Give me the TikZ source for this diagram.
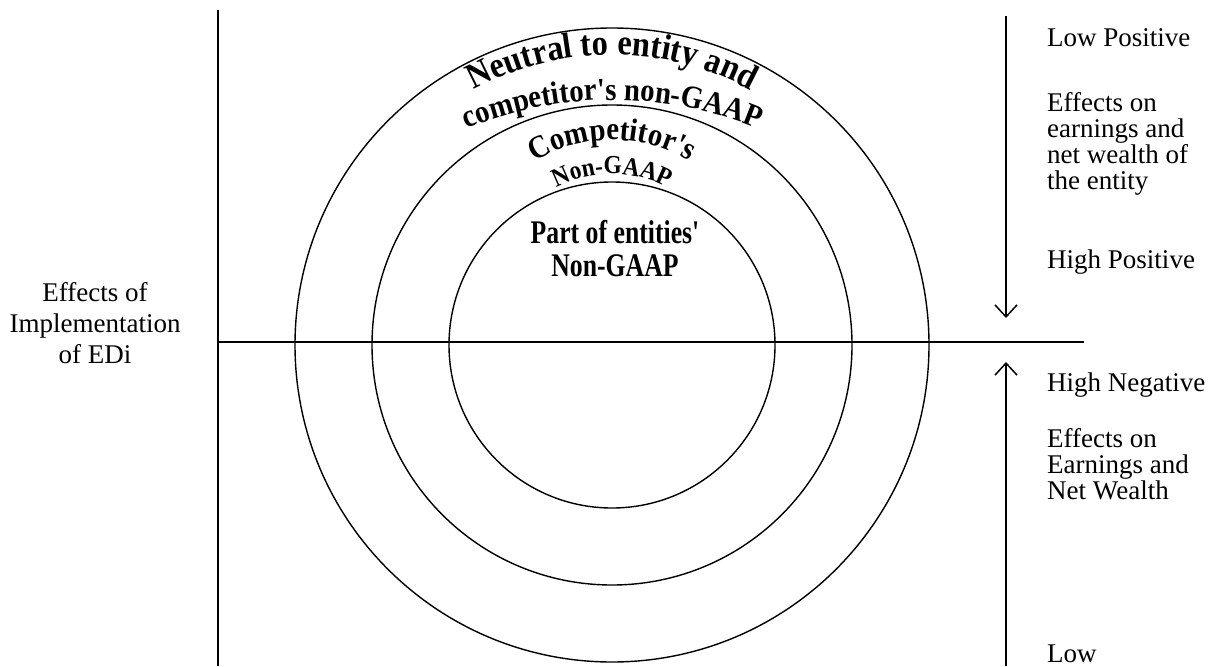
\documentclass[tikz,border=0pt]{standalone}
\usepackage{fontspec}
\setmainfont{Liberation Serif}
\newfontfamily\artfont[FakeStretch=0.9]{Liberation Serif}
\newfontfamily\narrowart[FakeStretch=0.78]{Liberation Serif}
\usetikzlibrary{arrows.meta, positioning, calc, decorations.text}

\begin{document}
\begin{tikzpicture}[
    x=1pt, y=1pt,
    axis/.style={draw=black, line width=1.5pt},
    ring/.style={draw=black, line width=1.4pt},
    scalearrow/.style={draw=black, line width=1.5pt, -{Straight Barb[length=12pt, width=22pt, line width=1.5pt]}},
    sidetext/.style={font=\fontsize{27}{26}\selectfont, align=left, inner sep=0pt},
    axistext/.style={font=\fontsize{27}{31}\selectfont, align=center, inner sep=0pt},
    innertext/.style={font=\narrowart\bfseries\fontsize{33}{33}\selectfont, align=center, inner sep=0pt}
]
\useasboundingbox (0,0) rectangle (1214,-666);

% Axes
\coordinate (vtop) at (218,-10);
\coordinate (vbot) at (218,-666);
\coordinate (hleft) at (218,-342);
\coordinate (hright) at (1084,-342);
\draw[axis] (vtop) -- (vbot);
\draw[axis] (hleft) -- (hright);

% Rings
\coordinate (c) at (612,-345);
\draw[ring] (c) circle[radius=317];
\draw[ring] (c) circle[radius=240];
\draw[ring] (c) circle[radius=163];

% Curved labels (arched like word art)
\coordinate (arcB) at (612,-480);
\coordinate (arcC) at (612,-290);
\coordinate (arcD) at (612,-294);
\path[decorate, decoration={text along path, text align=center,
    text={|\artfont\bfseries\fontsize{36}{36}\selectfont|Neutral to entity and}}]
    ($(c)+(130:290)$) arc[start angle=130, end angle=50, radius=290];
\path[decorate, decoration={text along path, text align=center,
    text={|\artfont\bfseries\fontsize{32}{32}\selectfont|competitor's non-GAAP}}]
    ($(arcB)+(130:380)$) arc[start angle=130, end angle=50, radius=380];
\path[decorate, decoration={text along path, text align=fit to path,
    text={|\artfont\bfseries\fontsize{32}{32}\selectfont|Competitor's}}]
    ($(arcC)+(121:150)$) arc[start angle=121, end angle=59, radius=150];
\path[decorate, decoration={text along path, text align=center,
    text={|\artfont\bfseries\fontsize{26}{26}\selectfont|Non-GAAP}}]
    ($(arcD)+(130:120)$) arc[start angle=130, end angle=50, radius=120];

\node[innertext] (part) at (615,-249) {Part of entities'\\Non-GAAP};

% Left label
\node[axistext] (effects) at (95,-323) {Effects of\\Implementation\\of EDi};

% Arrows
\coordinate (dtop) at (1006,-16);
\coordinate (dtip) at (1006,-318);
\coordinate (ubot) at (1006,-666);
\coordinate (utip) at (1006,-362);
\draw[scalearrow] (dtop) -- (dtip);
\draw[scalearrow] (ubot) -- (utip);

% Right labels
\node[sidetext, anchor=base west] (lowpos) at (1047,-47) {Low Positive};
\node[sidetext, anchor=west] (posfx) at (1047,-144) {Effects on\\earnings and\\net wealth of\\the entity};
\node[sidetext, anchor=base west] (highpos) at (1047,-268) {High Positive};
\node[sidetext, anchor=base west] (highneg) at (1047,-391) {High Negative};
\node[sidetext, anchor=west] (negfx) at (1047,-464) {Effects on\\Earnings and\\Net Wealth};
\node[sidetext, anchor=base west] (low) at (1047,-662) {Low};

\end{tikzpicture}
\end{document}
